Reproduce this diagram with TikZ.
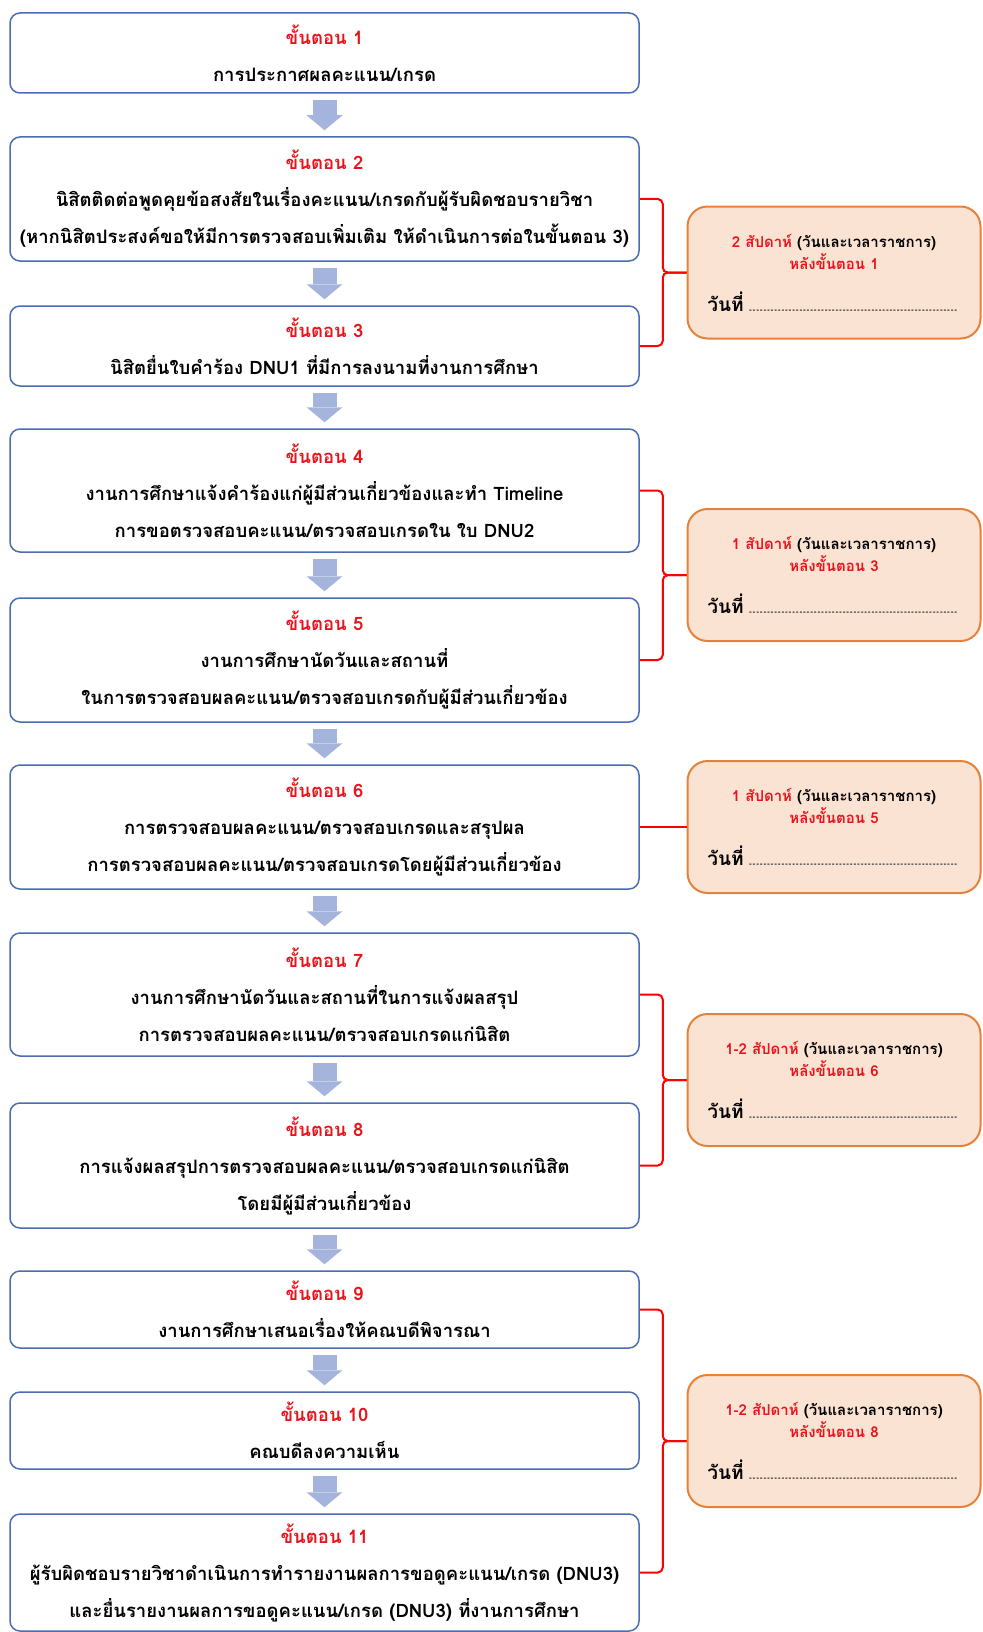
\documentclass[tikz,border=0pt]{standalone}
\usepackage{fontspec}
\newfontfamily\thaifont[Script=Thai]{Loma}
\usetikzlibrary{arrows.meta,calc}

\definecolor{boxblue}{HTML}{4A6DB3}
\definecolor{arrowblue}{HTML}{A4B4DC}
\definecolor{stepred}{HTML}{E8141C}
\definecolor{notefill}{HTML}{FBE3D4}
\definecolor{noteedge}{HTML}{E58139}

\newcommand{\stepno}[1]{\textcolor{stepred}{ขั้นตอน #1}}
\newcommand{\datefill}{\textcolor{black!60}{\hbox to 212pt{\leaders\hbox to 3.6pt{\hss.\hss}\hfill}}}

\begin{document}
\begin{tikzpicture}[x=1pt,y=-1pt,
    stepbox/.style={draw=boxblue,line width=1.5pt,rounded corners=10pt,
        minimum width=629pt,align=center,inner sep=0pt,
        font=\thaifont\bfseries\fontsize{18.5}{37}\selectfont},
    notebox/.style={draw=noteedge,fill=notefill,line width=2pt,rounded corners=20pt,
        minimum width=293pt,minimum height=132pt,align=center,inner sep=0pt,
        font=\thaifont\bfseries\fontsize{15}{22}\selectfont},
    flow/.style={arrowblue,line width=24pt,shorten <=6pt,shorten >=6pt,
        -{Triangle[width=36pt,length=15pt,line width=0pt]}},
    brace/.style={red,line width=2pt,rounded corners=5pt}]

    \useasboundingbox (0,0) rectangle (982,1632);

    % steps
    \node[stepbox,minimum height=80pt] (s1) at (324.5,53)
        {\stepno{1}\\การประกาศผลคะแนน/เกรด};
    \node[stepbox,minimum height=124pt] (s2) at (324.5,199)
        {\stepno{2}\\นิสิตติดต่อพูดคุยข้อสงสัยในเรื่องคะแนน/เกรดกับผู้รับผิดชอบรายวิชา\\(หากนิสิตประสงค์ขอให้มีการตรวจสอบเพิ่มเติม ให้ดำเนินการต่อในขั้นตอน 3)};
    \node[stepbox,minimum height=80pt] (s3) at (324.5,346)
        {\stepno{3}\\นิสิตยื่นใบคำร้อง DNU1 ที่มีการลงนามที่งานการศึกษา};
    \node[stepbox,minimum height=123pt] (s4) at (324.5,490.5)
        {\stepno{4}\\งานการศึกษาแจ้งคำร้องแก่ผู้มีส่วนเกี่ยวข้องและทำ Timeline\\การขอตรวจสอบคะแนน/ตรวจสอบเกรดใน ใบ DNU2};
    \node[stepbox,minimum height=124pt] (s5) at (324.5,660)
        {\stepno{5}\\งานการศึกษานัดวันและสถานที่\\ในการตรวจสอบผลคะแนน/ตรวจสอบเกรดกับผู้มีส่วนเกี่ยวข้อง};
    \node[stepbox,minimum height=124pt] (s6) at (324.5,827)
        {\stepno{6}\\การตรวจสอบผลคะแนน/ตรวจสอบเกรดและสรุปผล\\การตรวจสอบผลคะแนน/ตรวจสอบเกรดโดยผู้มีส่วนเกี่ยวข้อง};
    \node[stepbox,minimum height=123pt] (s7) at (324.5,994.5)
        {\stepno{7}\\งานการศึกษานัดวันและสถานที่ในการแจ้งผลสรุป\\การตรวจสอบผลคะแนน/ตรวจสอบเกรดแก่นิสิต};
    \node[stepbox,minimum height=125pt] (s8) at (324.5,1165.5)
        {\stepno{8}\\การแจ้งผลสรุปการตรวจสอบผลคะแนน/ตรวจสอบเกรดแก่นิสิต\\โดยมีผู้มีส่วนเกี่ยวข้อง};
    \node[stepbox,minimum height=77pt] (s9) at (324.5,1309.5)
        {\stepno{9}\\งานการศึกษาเสนอเรื่องให้คณบดีพิจารณา};
    \node[stepbox,minimum height=77pt] (s10) at (324.5,1430.5)
        {\stepno{10}\\คณบดีลงความเห็น};
    \node[stepbox,minimum height=117pt] (s11) at (324.5,1572.5)
        {\stepno{11}\\ผู้รับผิดชอบรายวิชาดำเนินการทำรายงานผลการขอดูคะแนน/เกรด (DNU3)\\และยื่นรายงานผลการขอดูคะแนน/เกรด (DNU3) ที่งานการศึกษา};

    % arrows between steps
    \foreach \a/\b in {s1/s2,s2/s3,s3/s4,s4/s5,s5/s6,s6/s7,s7/s8,s8/s9,s9/s10,s10/s11}
        \draw[flow] (\a) -- (\b);

    % time limits
    \node[notebox] (n1) at (834,272.5)
        {\textcolor{stepred}{2 สัปดาห์} (วันและเวลาราชการ)\\\textcolor{stepred}{หลังขั้นตอน 1}\\[20pt]
         {\fontsize{19}{22}\selectfont วันที่}\ \datefill};
    \node[notebox] (n2) at (834,575)
        {\textcolor{stepred}{1 สัปดาห์} (วันและเวลาราชการ)\\\textcolor{stepred}{หลังขั้นตอน 3}\\[20pt]
         {\fontsize{19}{22}\selectfont วันที่}\ \datefill};
    \node[notebox] (n3) at (834,827)
        {\textcolor{stepred}{1 สัปดาห์} (วันและเวลาราชการ)\\\textcolor{stepred}{หลังขั้นตอน 5}\\[20pt]
         {\fontsize{19}{22}\selectfont วันที่}\ \datefill};
    \node[notebox] (n4) at (834,1080)
        {\textcolor{stepred}{1-2 สัปดาห์} (วันและเวลาราชการ)\\\textcolor{stepred}{หลังขั้นตอน 6}\\[20pt]
         {\fontsize{19}{22}\selectfont วันที่}\ \datefill};
    \node[notebox] (n5) at (834,1441)
        {\textcolor{stepred}{1-2 สัปดาห์} (วันและเวลาราชการ)\\\textcolor{stepred}{หลังขั้นตอน 8}\\[20pt]
         {\fontsize{19}{22}\selectfont วันที่}\ \datefill};

    % braces to the notes
    \coordinate (m1) at ($(s2.east)!.5!(s3.east)+(23,0)$);
    \draw[brace] (s2.east) -| (m1) -- (n1.west);
    \draw[brace] (s3.east) -| (m1) -- (n1.west);
    \coordinate (m2) at ($(s4.east)!.5!(s5.east)+(23,0)$);
    \draw[brace] (s4.east) -| (m2) -- (n2.west);
    \draw[brace] (s5.east) -| (m2) -- (n2.west);
    \draw[brace] (s6.east) -- (n3.west);
    \coordinate (m4) at ($(s7.east)!.5!(s8.east)+(23,0)$);
    \draw[brace] (s7.east) -| (m4) -- (n4.west);
    \draw[brace] (s8.east) -| (m4) -- (n4.west);
    \coordinate (m5) at ($(s9.east)!.5!(s11.east)+(23,0)$);
    \draw[brace] (s9.east) -| (m5) -- (n5.west);
    \draw[brace] (s11.east) -| (m5) -- (n5.west);

\end{tikzpicture}
\end{document}
